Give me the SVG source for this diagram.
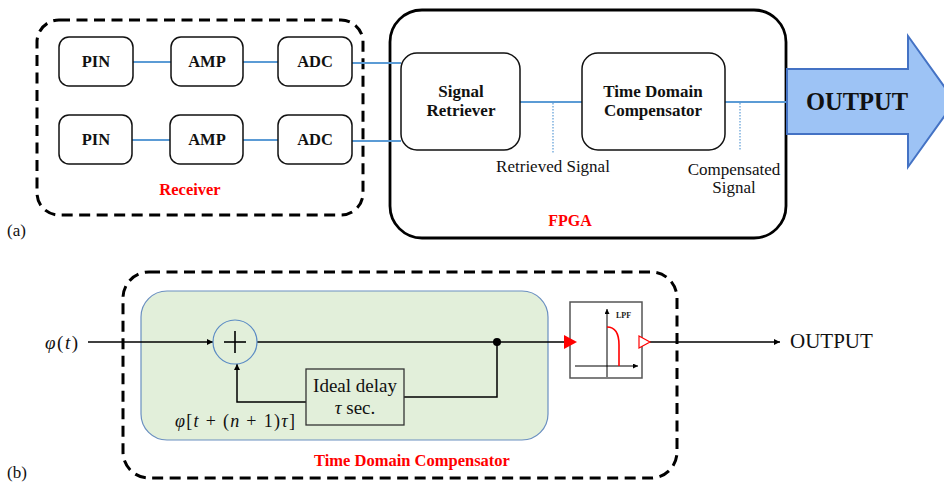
<svg xmlns="http://www.w3.org/2000/svg" width="944" height="488" viewBox="0 0 944 488">
<style>
.t{font-family:"Liberation Serif","Times New Roman",serif;fill:#111}
.b{font-weight:bold}
.red{fill:#ff0000;font-weight:bold}
.box{fill:#fff;stroke:#111;stroke-width:1.5}
.blue{stroke:#5b9bd5;stroke-width:1.8;fill:none}
.dash{fill:none;stroke:#000;stroke-width:3;stroke-dasharray:11 6.5}
.wire{fill:none;stroke:#000;stroke-width:1.5}
.i{font-style:italic}
</style>
<defs>
<marker id="ah" viewBox="0 0 10 10" refX="10" refY="5" markerWidth="6" markerHeight="6" markerUnits="userSpaceOnUse" orient="auto"><path d="M0,0 L10,5 L0,10 z" fill="#000"/></marker>
<marker id="ahs" viewBox="0 0 10 10" refX="10" refY="5" markerWidth="5" markerHeight="5" markerUnits="userSpaceOnUse" orient="auto"><path d="M0,0 L10,5 L0,10 z" fill="#000"/></marker>
</defs>

<!-- (a) containers -->
<g id="receiver">
<rect class="dash" x="37" y="20" width="326" height="195" rx="22"/>
<text class="t red" x="190" y="195" font-size="16.5" text-anchor="middle">Receiver</text>
</g>
<g id="fpga">
<rect x="390" y="10" width="396" height="228" rx="32" fill="#fff" stroke="#000" stroke-width="2.8"/>
<text class="t red" x="570" y="226" font-size="16" text-anchor="middle">FPGA</text>
</g>

<g id="connectors-a">
<line class="blue" x1="133" y1="62" x2="171" y2="62"/>
<line class="blue" x1="243" y1="62" x2="278" y2="62"/>
<line class="blue" x1="352" y1="63" x2="401" y2="63"/>
<line class="blue" x1="132" y1="140" x2="170" y2="140"/>
<line class="blue" x1="243" y1="140" x2="278" y2="140"/>
<line class="blue" x1="352" y1="141" x2="401" y2="141" stroke-width="2.4"/>
<line class="blue" x1="520" y1="102" x2="582" y2="102"/>
<line class="blue" x1="725" y1="102" x2="787" y2="102"/>
<line x1="553" y1="103" x2="553" y2="153" stroke="#5b9bd5" stroke-width="1.2" stroke-dasharray="1.5 1.5"/>
<line x1="740" y1="103" x2="740" y2="150" stroke="#5b9bd5" stroke-width="1.2" stroke-dasharray="1.5 1.5"/>
</g>

<g id="pin1"><rect class="box" x="59" y="37" width="74" height="49" rx="10"/><text class="t b" x="96" y="67" font-size="16.5" text-anchor="middle">PIN</text></g>
<g id="amp1"><rect class="box" x="171" y="37" width="72" height="49" rx="10"/><text class="t b" x="207" y="67" font-size="16.5" text-anchor="middle">AMP</text></g>
<g id="adc1"><rect class="box" x="278" y="37" width="74" height="49" rx="10"/><text class="t b" x="315" y="67" font-size="16.5" text-anchor="middle">ADC</text></g>
<g id="pin2"><rect class="box" x="59" y="115" width="73" height="49" rx="10"/><text class="t b" x="96" y="145" font-size="16.5" text-anchor="middle">PIN</text></g>
<g id="amp2"><rect class="box" x="170" y="115" width="73" height="49" rx="10"/><text class="t b" x="207" y="145" font-size="16.5" text-anchor="middle">AMP</text></g>
<g id="adc2"><rect class="box" x="278" y="115" width="74" height="49" rx="10"/><text class="t b" x="315" y="145" font-size="16.5" text-anchor="middle">ADC</text></g>

<g id="signal-retriever"><rect class="box" x="401" y="53" width="119" height="97" rx="16"/>
<text class="t b" x="461" y="97" font-size="17" text-anchor="middle">Signal</text>
<text class="t b" x="461" y="116" font-size="17" text-anchor="middle">Retriever</text></g>
<g id="tdc-a"><rect class="box" x="582" y="53" width="143" height="97" rx="16"/>
<text class="t b" x="653" y="97" font-size="17" text-anchor="middle">Time Domain</text>
<text class="t b" x="653" y="116" font-size="17" text-anchor="middle">Compensator</text></g>

<g id="labels-a">
<text class="t" x="553" y="172" font-size="17" text-anchor="middle">Retrieved Signal</text>
<text class="t" x="734" y="175" font-size="17" text-anchor="middle">Compensated</text>
<text class="t" x="734" y="193" font-size="17" text-anchor="middle">Signal</text>
<text class="t" x="7" y="236" font-size="17">(a)</text>
</g>

<g id="output-arrow">
<path d="M787,69 L908,69 L908,36 L955,101.5 L908,167 L908,134 L787,134 Z" fill="#9dc3f5" stroke="#4472c4" stroke-width="2"/>
<text class="t b" x="857" y="110" font-size="24.5" text-anchor="middle">OUTPUT</text>
</g>

<!-- (b) -->
<g id="tdc-b">
<rect class="dash" x="123" y="272" width="554" height="206" rx="26"/>
<text class="t red" x="412" y="466" font-size="16.5" text-anchor="middle">Time Domain Compensator</text>
</g>
<g id="green-block">
<rect x="141" y="291" width="407" height="149" rx="26" fill="#e2efda" stroke="#6a8fc0" stroke-width="1.2"/>
</g>

<g id="connectors-b">
<line class="wire" x1="88" y1="342" x2="213" y2="342" marker-end="url(#ah)"/>
<line class="wire" x1="257" y1="342" x2="566" y2="342"/>
<polyline class="wire" points="497,342 497,397 404,397"/>
<polyline class="wire" points="306,402 237,402 237,364" marker-end="url(#ah)"/>
<circle cx="497" cy="342" r="4" fill="#000"/>
<line class="wire" x1="650" y1="342" x2="780" y2="342" marker-end="url(#ah)"/>
</g>

<g id="adder">
<circle cx="235" cy="342" r="22" fill="#e2efda" stroke="#5b8bc4" stroke-width="1.2"/>
<line x1="224" y1="342" x2="246" y2="342" stroke="#000" stroke-width="1.6"/>
<line x1="235" y1="331" x2="235" y2="353" stroke="#000" stroke-width="1.6"/>
</g>

<g id="delay">
<rect x="306" y="369" width="98" height="56" fill="#e2efda" stroke="#333" stroke-width="1.3"/>
<text class="t" x="355" y="392" font-size="19" text-anchor="middle">Ideal delay</text>
<text class="t" x="355" y="414" font-size="19" text-anchor="middle"><tspan class="i">τ</tspan> sec.</text>
</g>

<g id="lpf">
<rect x="570" y="302" width="72" height="76" fill="#fff" stroke="#555" stroke-width="1.5"/>
<line x1="607" y1="377" x2="607" y2="309" stroke="#000" stroke-width="1" marker-end="url(#ahs)"/>
<line x1="575" y1="366" x2="638" y2="366" stroke="#000" stroke-width="1" marker-end="url(#ahs)"/>
<path d="M607,327 Q619,327 619,345 L619,366" fill="none" stroke="#ff0000" stroke-width="1.6"/>
<text x="616" y="318" font-family="Liberation Serif, serif" font-weight="bold" font-size="8" fill="#222">LPF</text>
<path d="M564,335 L577,342 L564,349 Z" fill="#ff0000"/>
<path d="M639,336 L650,342 L639,348 Z" fill="#fff" stroke="#ff0000" stroke-width="1.2"/>
</g>

<g id="labels-b">
<text class="t" x="45" y="349" font-size="19" textLength="33" lengthAdjust="spacing"><tspan class="i">φ</tspan>(<tspan class="i">t</tspan>)</text>
<text class="t" x="175" y="427" font-size="18" textLength="120" lengthAdjust="spacing"><tspan class="i">φ</tspan>[<tspan class="i">t</tspan> + (<tspan class="i">n</tspan> + 1)<tspan class="i">τ</tspan>]</text>
<text class="t" x="790" y="348" font-size="21">OUTPUT</text>
<text class="t" x="7" y="478" font-size="17">(b)</text>
</g>
</svg>
